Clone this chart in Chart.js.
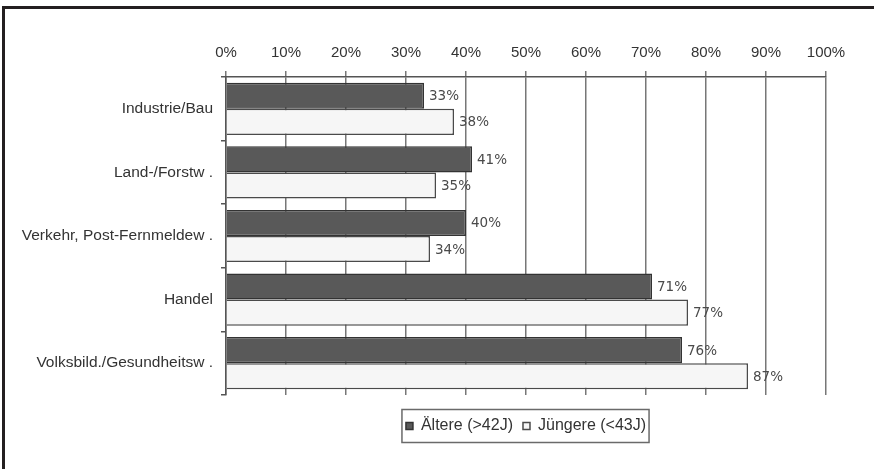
<!DOCTYPE html>
<html><head><meta charset="utf-8">
<script src="https://cdn.jsdelivr.net/npm/chart.js@4.4.1/dist/chart.umd.min.js"></script>
<style>
html,body{margin:0;padding:0;background:#fff;}
#wrap{position:relative;width:874px;height:469px;overflow:hidden;}
#frame{position:absolute;left:2px;top:6px;right:-10px;bottom:-10px;border-top:3px solid #231f20;border-left:3px solid #231f20;pointer-events:none;}
canvas{position:absolute;left:0;top:0;}
</style></head><body>
<div id="wrap"><canvas id="c" width="874" height="469"></canvas><div id="frame"></div></div>
<script>
const categories = ['Industrie/Bau', 'Land-/Forstw .', 'Verkehr, Post-Fernmeldew .', 'Handel', 'Volksbild./Gesundheitsw .'];
const seriesNames = ['Ältere (>42J)', 'Jüngere (<43J)'];
const aeltere = [33, 41, 40, 71, 76];
const juengere = [38, 35, 34, 77, 87];
const xTickValues = [0, 10, 20, 30, 40, 50, 60, 70, 80, 90, 100];
const xTickLabels = ['0%', '10%', '20%', '30%', '40%', '50%', '60%', '70%', '80%', '90%', '100%'];

const labelPlugin = {
  id: 'barLabels',
  afterDatasetsDraw(chart) {
    const ctx = chart.ctx;
    ctx.save();
    ctx.font = '13.5px "DejaVu Sans"';
    ctx.fillStyle = '#4a4a4a';
    ctx.textAlign = 'left';
    ctx.textBaseline = 'middle';
    chart.data.datasets.forEach((ds, di) => {
      const meta = chart.getDatasetMeta(di);
      meta.data.forEach((el, i) => {
        ctx.fillText(ds.data[i] + '%', el.x + 5, el.y + 1);
      });
    });
    ctx.restore();
  }
};

const legendBoxPlugin = {
  id: 'legendBox',
  afterDraw(chart) {
    const lg = chart.legend;
    if (!lg || !lg.legendHitBoxes || !lg.legendHitBoxes.length) return;
    const hb = lg.legendHitBoxes;
    let l = Infinity, r = -Infinity, t = Infinity, b = -Infinity;
    hb.forEach(h => { l = Math.min(l, h.left); r = Math.max(r, h.left + h.width); t = Math.min(t, h.top); b = Math.max(b, h.top + h.height); });
    const ctx = chart.ctx;
    ctx.save();
    ctx.strokeStyle = '#6a6a6a';
    ctx.lineWidth = 1.5;
    const cy = (t + b) / 2;
    ctx.strokeRect(l - 4, cy - 16.5, (r - l) + 7, 33);
    ctx.restore();
  }
};

new Chart(document.getElementById('c'), {
  type: 'bar',
  data: {
    labels: categories,
    datasets: [
      { label: seriesNames[0], data: aeltere, backgroundColor: '#595959', borderColor: '#333333', borderWidth: 1.5, categoryPercentage: 0.82, barPercentage: 1.0 },
      { label: seriesNames[1], data: juengere, backgroundColor: '#f6f6f6', borderColor: '#4a4a4a', borderWidth: 1.5, categoryPercentage: 0.82, barPercentage: 1.0 }
    ]
  },
  options: {
    indexAxis: 'y',
    responsive: false,
    animation: false,
    layout: { padding: { left: 10, right: 48, top: 0, bottom: 25 } },
    scales: {
      x: {
        position: 'top',
        min: 0, max: 100,
        afterBuildTicks(scale) { scale.ticks = xTickValues.map(v => ({ value: v })); },
        afterFit(scale) { scale.height = 77; },
        ticks: {
          callback(v) { const i = xTickValues.indexOf(v); return i >= 0 ? xTickLabels[i] : ''; },
          font: { family: '"Liberation Sans", Arial, sans-serif', size: 15 },
          color: '#333',
          padding: 9,
          maxRotation: 0
        },
        grid: { color: '#777', lineWidth: 1.5, tickLength: 6, drawTicks: true },
        border: { color: '#555', width: 1.5 }
      },
      y: {
        afterFit(scale) { scale.width = 216; },
        ticks: {
          font: { family: '"Liberation Sans", Arial, sans-serif', size: 15.5 },
          color: '#333',
          padding: 8,
          autoSkip: false
        },
        grid: { drawOnChartArea: false, drawTicks: true, tickLength: 5, color: '#555', lineWidth: 1.5 },
        border: { color: '#555', width: 1.5 }
      }
    },
    plugins: {
      legend: {
        position: 'bottom',
        fullSize: false,
        title: { display: true, text: ' ', font: { size: 10 }, padding: { top: 1, bottom: 0 } },
        labels: {
          boxWidth: 7, boxHeight: 7, padding: 10,
          font: { family: '"Liberation Sans", Arial, sans-serif', size: 16 },
          color: '#333'
        }
      },
      tooltip: { enabled: false }
    }
  },
  plugins: [labelPlugin, legendBoxPlugin]
});
</script>
</body></html>
